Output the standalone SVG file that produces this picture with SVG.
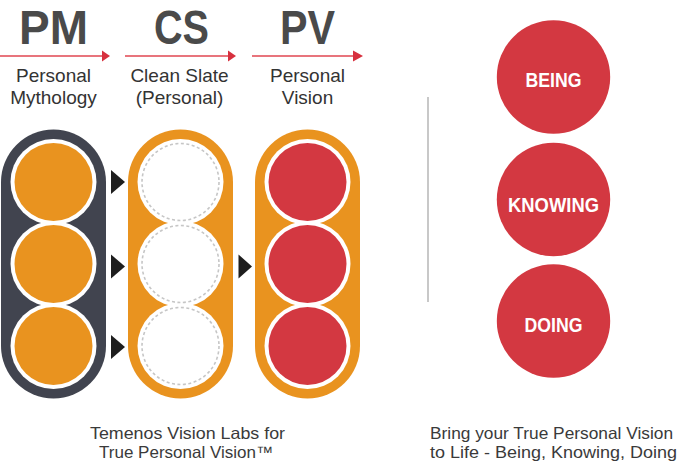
<svg xmlns="http://www.w3.org/2000/svg" width="680" height="462" viewBox="0 0 680 462">
<style>
.hd{font-family:"Liberation Sans",Arial,sans-serif;font-weight:bold;font-size:48px;fill:#4a4a4a;text-anchor:middle}
.sub{font-family:"Liberation Sans",Arial,sans-serif;font-size:19px;fill:#333;text-anchor:middle}
.cap{font-family:"Liberation Sans",Arial,sans-serif;font-size:16.5px;fill:#3a3a3a}
.lbl{font-family:"Liberation Sans",Arial,sans-serif;font-weight:bold;font-size:21px;fill:#fff;text-anchor:middle}
.redline{stroke:#e8747c;stroke-width:2.2;fill:none}
.redhead{fill:#d7303e}
.tri{fill:#1e1e1e}
.ring{fill:#fff}
.org{fill:#e9931f}
.red{fill:#d33841}
.dash{fill:#fff;stroke:#c6c6c6;stroke-width:1.6;stroke-dasharray:3 2.5}
</style>
<rect width="680" height="462" fill="#fff"/>

<g id="pm-header">
<text class="hd" x="53.5" y="43.5" textLength="69" lengthAdjust="spacingAndGlyphs">PM</text>
<text class="sub" x="53.5" y="82">Personal</text>
<text class="sub" x="53.5" y="103.5">Mythology</text>
</g>
<g id="cs-header">
<text class="hd" x="181.5" y="43.5" textLength="55" lengthAdjust="spacingAndGlyphs">CS</text>
<text class="sub" x="179.5" y="82">Clean Slate</text>
<text class="sub" x="179.5" y="103.5">(Personal)</text>
</g>
<g id="pv-header">
<text class="hd" x="307.5" y="43.5" textLength="55" lengthAdjust="spacingAndGlyphs">PV</text>
<text class="sub" x="307.5" y="82">Personal</text>
<text class="sub" x="307.5" y="103.5">Vision</text>
</g>

<g id="connectors">
<line class="redline" x1="0" y1="56" x2="103" y2="56"/>
<polygon class="redhead" points="102,50.5 110,56 102,61.5"/>
<line class="redline" x1="125" y1="56" x2="229" y2="56"/>
<polygon class="redhead" points="228,50.5 236,56 228,61.5"/>
<line class="redline" x1="252" y1="56" x2="355" y2="56"/>
<polygon class="redhead" points="353,50.5 363,56 353,61.5"/>
<polygon class="tri" points="111,170 125,182 111,194"/>
<polygon class="tri" points="111,254.5 125,266.5 111,278.5"/>
<polygon class="tri" points="111,335 125,347 111,359"/>
<polygon class="tri" points="238.5,254.5 252,266.5 238.5,278.5"/>
</g>

<g id="pm-column">
<rect x="1" y="129.5" width="105" height="269" rx="52.5" fill="#41444f"/>
<circle class="ring" cx="53.5" cy="182" r="43"/>
<circle class="ring" cx="53.5" cy="264" r="43"/>
<circle class="ring" cx="53.5" cy="346" r="43"/>
<circle class="org" cx="53.5" cy="182" r="39"/>
<circle class="org" cx="53.5" cy="264" r="39"/>
<circle class="org" cx="53.5" cy="346" r="39"/>
</g>

<g id="cs-column">
<rect x="128" y="129.5" width="105" height="269" rx="52.5" fill="#e9931f"/>
<circle class="ring" cx="180.5" cy="182" r="43"/>
<circle class="ring" cx="180.5" cy="264" r="43"/>
<circle class="ring" cx="180.5" cy="346" r="43"/>
<circle class="dash" cx="180.5" cy="182" r="38.5"/>
<circle class="dash" cx="180.5" cy="264" r="38.5"/>
<circle class="dash" cx="180.5" cy="346" r="38.5"/>
</g>

<g id="pv-column">
<rect x="255" y="129.5" width="105" height="269" rx="52.5" fill="#e9931f"/>
<circle class="ring" cx="307.5" cy="182" r="43"/>
<circle class="ring" cx="307.5" cy="264" r="43"/>
<circle class="ring" cx="307.5" cy="346" r="43"/>
<circle class="red" cx="307.5" cy="182" r="39"/>
<circle class="red" cx="307.5" cy="264" r="39"/>
<circle class="red" cx="307.5" cy="346" r="39"/>
</g>

<g id="left-caption">
<text class="cap" x="187.5" y="438.5" text-anchor="middle" textLength="195" lengthAdjust="spacingAndGlyphs">Temenos Vision Labs for</text>
<text class="cap" x="186" y="457.5" text-anchor="middle" textLength="174" lengthAdjust="spacingAndGlyphs">True Personal Vision™</text>
</g>

<g id="divider">
<line x1="428" y1="97" x2="428" y2="302" stroke="#c8c8c8" stroke-width="2"/>
</g>

<g id="being">
<circle class="red" cx="553.5" cy="77" r="56.7"/>
<text class="lbl" x="553.5" y="86.7" textLength="56" lengthAdjust="spacingAndGlyphs">BEING</text>
</g>
<g id="knowing">
<circle class="red" cx="553.5" cy="199.5" r="56.7"/>
<text class="lbl" x="553.5" y="211.7" textLength="91" lengthAdjust="spacingAndGlyphs">KNOWING</text>
</g>
<g id="doing">
<circle class="red" cx="553.5" cy="321" r="56.7"/>
<text class="lbl" x="553.5" y="331.7" textLength="58" lengthAdjust="spacingAndGlyphs">DOING</text>
</g>

<g id="right-caption">
<text class="cap" x="430" y="438.5" textLength="243" lengthAdjust="spacingAndGlyphs">Bring your True Personal Vision</text>
<text class="cap" x="430" y="457.5" textLength="247" lengthAdjust="spacingAndGlyphs">to Life - Being, Knowing, Doing</text>
</g>
</svg>
